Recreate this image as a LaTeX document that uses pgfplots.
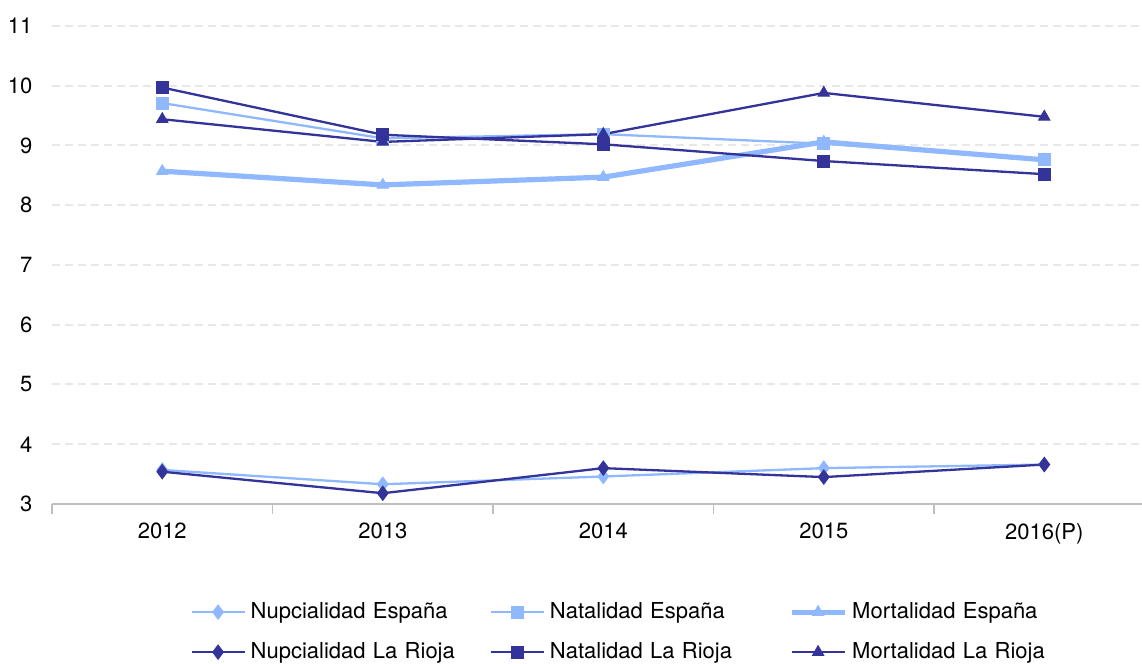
\documentclass[border=0pt]{standalone}
\usepackage{pgfplots}
\pgfplotsset{compat=1.18}
\usepackage{fontspec}
\setmainfont{TeX Gyre Heros}
\definecolor{lb}{RGB}{143,184,255}
\definecolor{db}{RGB}{51,51,153}
\definecolor{gridc}{RGB}{232,232,232}
\definecolor{axc}{RGB}{190,190,190}
\begin{document}
\begin{tikzpicture}
\begin{axis}[
  name=ax,
  scale only axis,
  width=545pt, height=239pt,
  xmin=-0.5, xmax=4.443,
  ymin=3, ymax=11,
  ytick={3,4,...,11},
  xtick={0,1,2,3,4},
  xticklabels={2012,2013,2014,2015,2016(P)},
  minor xtick={-0.5,0.5,1.5,2.5,3.5},
  major tick length=0pt,
  minor tick length=5pt,
  tick align=outside,
  axis x line*=bottom,
  axis y line*=left,
  x axis line style={draw=axc, line width=0.75pt},
  y axis line style={draw=none},
  minor tick style={draw=axc, line width=0.6pt},
  ymajorgrids,
  major grid style={draw=gridc, line width=1pt, dash pattern=on 4pt off 2.5pt},
  ytick style={draw=none},
  /pgf/number format/assume math mode=true,
  tick label style={font=\fontsize{11}{13}\selectfont, text=black},
  yticklabel style={anchor=east, xshift=-6.3pt},
  xticklabel style={yshift=-6pt},
  clip=false,
  legend columns=3,
  legend cell align=left,
  legend style={at={(0.1266,-0.195)}, anchor=north west, draw=none, fill=none,
    inner sep=0pt, column sep=0pt, row sep=5.5pt,
    font=\fontsize{11}{13}\selectfont,
    nodes={inner sep=2.5pt, text width=117pt, align=left}},
  legend image code/.code={\draw[mark repeat=2,mark phase=2] plot coordinates {(0pt,0pt) (13.25pt,0pt) (26.5pt,0pt)};},
]
\addplot[color=lb, line width=1.15pt, mark=diamond*, mark size=3pt, mark options={solid, fill=lb}]
  coordinates {(0,3.57) (1,3.33) (2,3.46) (3,3.60) (4,3.66)};
\addlegendentry{Nupcialidad España}
\addplot[color=lb, line width=1.15pt, mark=square*, mark size=3pt, mark options={solid, fill=lb, line width=0.5pt}]
  coordinates {(0,9.71) (1,9.12) (2,9.19) (3,9.03) (4,8.76)};
\addlegendentry{Natalidad España}
\addplot[color=lb, line width=2.6pt, mark=triangle*, mark size=3.2pt, mark options={solid, fill=lb, line width=0.5pt}]
  coordinates {(0,8.57) (1,8.34) (2,8.47) (3,9.06) (4,8.76)};
\addlegendentry{Mortalidad España}
\addplot[color=db, line width=1.15pt, mark=diamond*, mark size=3pt, mark options={solid, fill=db}]
  coordinates {(0,3.54) (1,3.18) (2,3.60) (3,3.45) (4,3.66)};
\addlegendentry{Nupcialidad La Rioja}
\addplot[color=db, line width=1.15pt, mark=square*, mark size=3pt, mark options={solid, fill=db, line width=0.5pt}]
  coordinates {(0,9.97) (1,9.18) (2,9.02) (3,8.74) (4,8.52)};
\addlegendentry{Natalidad La Rioja}
\addplot[color=db, line width=1.15pt, mark=triangle*, mark size=3.2pt, mark options={solid, fill=db, line width=0.5pt}]
  coordinates {(0,9.44) (1,9.06) (2,9.19) (3,9.88) (4,9.48)};
\addlegendentry{Mortalidad La Rioja}
\end{axis}
\pgfresetboundingbox
\path[use as bounding box] ([xshift=-26pt,yshift=-80pt]ax.south west) rectangle ([yshift=13pt]ax.north east);
\end{tikzpicture}
\end{document}
